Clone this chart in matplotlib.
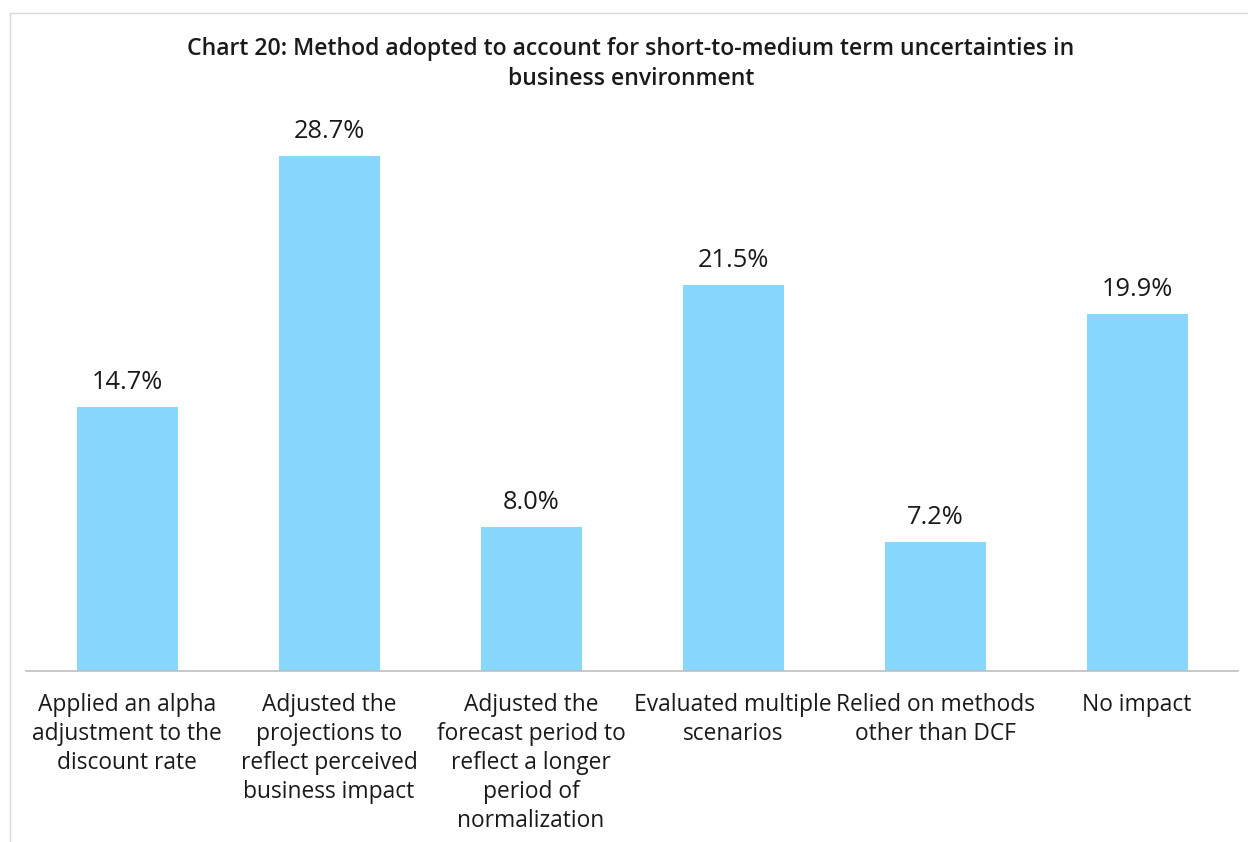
import matplotlib.pyplot as plt
from matplotlib.lines import Line2D

categories = [
    "Applied an alpha\nadjustment to the\ndiscount rate",
    "Adjusted the\nprojections to\nreflect perceived\nbusiness impact",
    "Adjusted the\nforecast period to\nreflect a longer\nperiod of\nnormalization",
    "Evaluated multiple\nscenarios",
    "Relied on methods\nother than DCF",
    "No impact",
]
values = [14.7, 28.7, 8.0, 21.5, 7.2, 19.9]

plt.rcParams['font.family'] = ['Open Sans', 'DejaVu Sans']

W, H = 1248, 842
fig = plt.figure(figsize=(W / 100, H / 100), dpi=100)
ax = fig.add_axes([26 / W, 1 - 671 / H, 1212 / W, 551 / H])

x = range(len(values))
bars = ax.bar(x, values, width=0.5, color='#87D7FE')
for b, v in zip(bars, values):
    ax.text(b.get_x() + b.get_width() / 2, v + 0.68, f"{v:.1f}%",
            ha='center', va='bottom', fontsize=18.3, color='#1a1a1a')

ax.set_xlim(-0.5, len(values) - 0.5)
ax.set_ylim(0, 30.7)
ax.set_yticks([])
ax.set_xticks(list(x))
ax.set_xticklabels(categories, fontsize=16.4, linespacing=1.27, color='#1a1a1a')
ax.tick_params(axis='x', length=0, pad=16)
for s in ['top', 'right', 'left']:
    ax.spines[s].set_visible(False)
ax.spines['bottom'].set_color('#BFBFBF')
ax.spines['bottom'].set_linewidth(1.2)

fig.text(631 / W, 1 - 64 / H,
         "Chart 20: Method adopted to account for short-to-medium term uncertainties in\nbusiness environment",
         ha='center', va='center', fontsize=16.6, fontweight='semibold',
         linespacing=1.33, color='#1a1a1a')

# thin frame on the left and top edges
fig.add_artist(Line2D([10 / W, 10 / W], [0, 1 - 13 / H], color='#D9D9D9', lw=1))
fig.add_artist(Line2D([10 / W, 1], [1 - 13 / H, 1 - 13 / H], color='#D9D9D9', lw=1))

fig.savefig('out.png', dpi=100)
